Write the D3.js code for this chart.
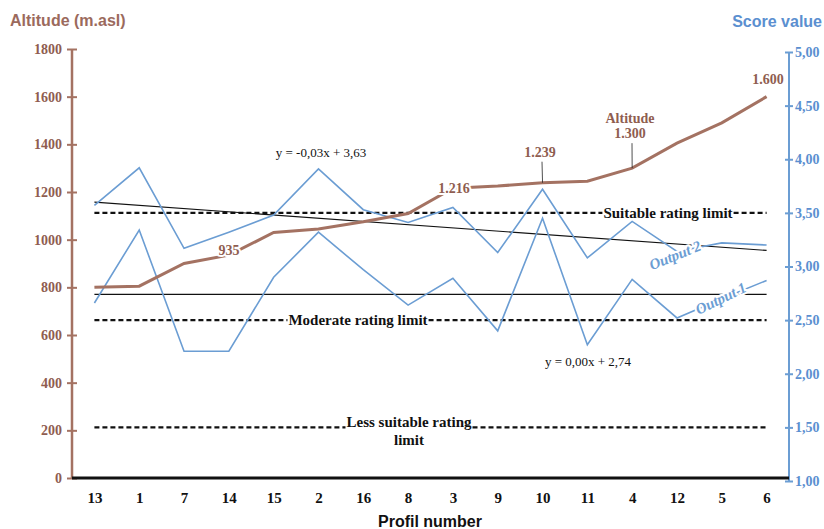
<!DOCTYPE html>
<html>
<head>
<meta charset="utf-8">
<script src="https://cdn.jsdelivr.net/npm/d3@7"></script>
<style>
  body { margin: 0; background: #fff; }
  svg { display: block; }
</style>
</head>
<body>
<div id="chart"></div>
<script>
// values
const profiles = ["13", "1", "7", "14", "15", "2", "16", "8", "3", "9", "10", "11", "4", "12", "5", "6"];
const altitude = [800, 805, 900, 935, 1030, 1045, 1075, 1110, 1216, 1225, 1239, 1245, 1300, 1405, 1490, 1600];
const output2 = [3.57, 3.92, 3.17, 3.32, 3.48, 3.91, 3.53, 3.41, 3.55, 3.13, 3.72, 3.08, 3.42, 3.14, 3.22, 3.20];
const output1 = [2.66, 3.34, 2.21, 2.21, 2.90, 3.32, 2.97, 2.64, 2.89, 2.40, 3.45, 2.27, 2.88, 2.52, 2.70, 2.87];
const altTicks = [0, 200, 400, 600, 800, 1000, 1200, 1400, 1600, 1800];
const scoreTicks = [1, 1.5, 2, 2.5, 3, 3.5, 4, 4.5, 5];
const trend2 = {slope: -0.03, intercept: 3.63, text: "y = -0,03x + 3,63"};
const trend1 = {slope: 0.00, intercept: 2.74, text: "y = 0,00x + 2,74"};
const limits = [
  {label: ["Suitable rating limit"], value: 3.5},
  {label: ["Moderate rating limit"], value: 2.5},
  {label: ["Less suitable rating", "limit"], value: 1.5}
];
const altLabels = [
  {profile: "14", text: ["935"]},
  {profile: "3", text: ["1.216"]},
  {profile: "10", text: ["1.239"]},
  {profile: "4", text: ["Altitude", "1.300"]},
  {profile: "6", text: ["1.600"]}
];

var W = 824, H = 529;
var brown = "#a47262", brownText = "#8f5d50", blue = "#6b9dd3", blueText = "#5b8fd0";
var serif = "'Liberation Serif', 'Times New Roman', serif";

var svg = d3.select("#chart").append("svg")
  .attr("width", W).attr("height", H);

var x = d3.scalePoint().domain(profiles).range([72, 789]).padding(0.5);
var yAlt = d3.scaleLinear().domain([0, 1800]).range([478, 49]);
var yScore = d3.scaleLinear().domain([1, 5]).range([481, 52]);

// layers
var gLimits = svg.append("g");
var gLines = svg.append("g");
var gLabels = svg.append("g");
var gAxes = svg.append("g");

// where the labels sit (layout only)
var limitLabelX = {"Suitable rating limit": 668, "Moderate rating limit": 358, "Less suitable rating": 409};
var altLabelPos = {
  "935": [229, 0], "1.216": [454, 5], "1.239": [540, -26],
  "Altitude": [630, -45], "1.600": [768, -13]
};

// left axis (altitude)
var axL = gAxes.append("g").attr("transform", "translate(72,0)")
  .call(d3.axisLeft(yAlt).tickValues(altTicks).tickSize(5).tickFormat(d3.format("d")));
axL.select(".domain").attr("stroke", brown).attr("stroke-width", 2.5).attr("d", "M0," + yAlt(0) + "V" + yAlt(1800));
axL.selectAll(".tick line").attr("stroke", brown).attr("stroke-width", 2).attr("x1", 5).attr("x2", -5);
axL.selectAll(".tick text").attr("x", -10).attr("fill", brownText)
  .style("font", "bold 14px " + serif);

// right axis (score)
var axR = gAxes.append("g").attr("transform", "translate(789,0)")
  .call(d3.axisRight(yScore).tickValues(scoreTicks).tickSize(5).tickFormat(d => d3.format(".2f")(d).replace(".", ",")));
axR.select(".domain").attr("stroke", blue).attr("stroke-width", 2).attr("d", "M0," + yScore(1) + "V" + yScore(5));
axR.selectAll(".tick line").attr("stroke", blue).attr("stroke-width", 2).attr("x1", -4).attr("x2", 4);
axR.selectAll(".tick text").attr("x", 6).attr("fill", blueText)
  .style("font", "bold 14px " + serif);

// bottom axis
var axB = gAxes.append("g").attr("transform", "translate(0,478)")
  .call(d3.axisBottom(x).tickSize(0));
axB.select(".domain").attr("stroke", "#111").attr("stroke-width", 3).attr("d", "M72,0H789");
axB.selectAll(".tick text").attr("dy", 0).attr("y", 25).attr("fill", "#111")
  .style("font", "bold 15px " + serif);

// titles
gAxes.append("text").attr("x", 10).attr("y", 26).attr("fill", "#9b6a5d")
  .style("font", "bold 16px 'Liberation Sans', Arial, sans-serif").text("Altitude (m.asl)");
gAxes.append("text").attr("x", 822).attr("y", 27).attr("text-anchor", "end").attr("fill", blueText)
  .style("font", "bold 16px 'Liberation Sans', Arial, sans-serif").text("Score value");
gAxes.append("text").attr("x", 430).attr("y", 527).attr("text-anchor", "middle").attr("fill", "#111")
  .style("font", "bold 16px 'Liberation Sans', Arial, sans-serif").text("Profil number");

// rating limits, dashes broken around their labels
limits.forEach(function(l) {
  var yy = yScore(l.value);
  var cx = limitLabelX[l.label[0]];
  var t = gLimits.append("text").attr("text-anchor", "middle").attr("fill", "#111")
    .style("font", "bold 15px " + serif);
  l.label.forEach(function(s, i) {
    t.append("tspan").attr("x", cx).attr("y", yy + 5 + (l.label.length > 1 ? -5 : 0) + i * 18).text(s);
  });
  var first = t.select("tspan").node().getComputedTextLength();
  var segs = [[x(profiles[0]), cx - first / 2 - 1], [cx + first / 2 + 1, x(profiles[profiles.length - 1])]];
  segs.forEach(function(s) {
    gLimits.append("line").attr("x1", s[0]).attr("x2", s[1]).attr("y1", yy).attr("y2", yy)
      .attr("stroke", "#111").attr("stroke-width", 2.4).attr("stroke-dasharray", "5,3");
  });
});

// trend lines
[trend2, trend1].forEach(function(t) {
  gLines.append("line")
    .attr("x1", x(profiles[0])).attr("y1", yScore(t.slope * 1 + t.intercept))
    .attr("x2", x(profiles[profiles.length - 1])).attr("y2", yScore(t.slope * profiles.length + t.intercept))
    .attr("stroke", "#111").attr("stroke-width", 1.1);
});
gLabels.append("text").attr("x", 321).attr("y", 157).attr("text-anchor", "middle").attr("fill", "#111")
  .style("font", "13px " + serif).text(trend2.text);
gLabels.append("text").attr("x", 588).attr("y", 366).attr("text-anchor", "middle").attr("fill", "#111")
  .style("font", "13px " + serif).text(trend1.text);

// score lines
var lineScore = d3.line().x((d, i) => x(profiles[i])).y(d => yScore(d));
[output2, output1].forEach(function(s) {
  gLines.append("path").datum(s).attr("d", lineScore)
    .attr("fill", "none").attr("stroke", blue).attr("stroke-width", 1.6);
});

// altitude line
var lineAlt = d3.line().x((d, i) => x(profiles[i])).y(d => yAlt(d));
gLines.append("path").datum(altitude).attr("d", lineAlt)
  .attr("fill", "none").attr("stroke", brown).attr("stroke-width", 3);

// series labels on the score lines
function halo(sel) {
  return sel.attr("stroke", "#fff").attr("stroke-width", 4).attr("paint-order", "stroke").attr("stroke-linejoin", "round");
}
halo(gLabels.append("text").attr("transform", "translate(677,260) rotate(-22)").attr("text-anchor", "middle")
  .attr("fill", blue).style("font", "italic bold 15px " + serif).text("Output 2"));
halo(gLabels.append("text").attr("transform", "translate(723,303) rotate(-26)").attr("text-anchor", "middle")
  .attr("fill", blue).style("font", "italic bold 15px " + serif).text("Output 1"));

// altitude value labels with leaders
altLabels.forEach(function(a) {
  var i = profiles.indexOf(a.profile);
  var px = x(a.profile), py = yAlt(altitude[i]);
  var pos = altLabelPos[a.text[0]];
  var ty = py + pos[1];
  if (pos[1] < -20) {
    gLabels.append("line").attr("x1", pos[0] + 2).attr("y1", ty + (a.text.length - 1) * 15 + 5)
      .attr("x2", px).attr("y2", py).attr("stroke", "#222").attr("stroke-width", 0.8);
  }
  var t = halo(gLabels.append("text").attr("text-anchor", "middle").attr("fill", brownText)
    .style("font", "bold 14px " + serif));
  a.text.forEach(function(s, j) {
    t.append("tspan").attr("x", pos[0]).attr("y", ty + j * 15).text(s);
  });
});
</script>
</body>
</html>
